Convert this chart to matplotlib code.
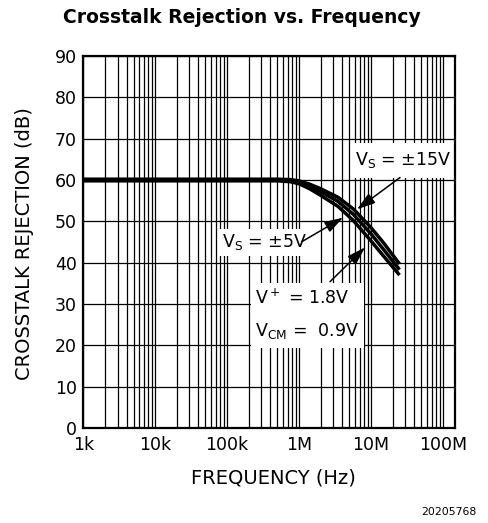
import matplotlib
matplotlib.use('Agg')
import matplotlib.pyplot as plt
from matplotlib.patches import Rectangle
from matplotlib.ticker import FixedLocator, FixedFormatter, LogLocator, NullFormatter

plt.rcParams['font.family'] = ['DejaVu Sans']
plt.rcParams['mathtext.default'] = 'regular'

# data
freq = [1e3, 1e4, 1e5, 3e5, 5e5, 7.5e5, 1e6, 1.4e6, 2e6, 3.5e6, 5.7e6, 1e7, 1.5e7, 2.5e7]
vs15 = [60.2, 60.2, 60.2, 60.2, 60.2, 60.1, 59.8, 59.0, 57.9, 55.8, 53.0, 48.5, 44.8, 39.7]
vs5 = [60.0, 60.0, 60.0, 60.0, 60.0, 59.9, 59.5, 58.5, 57.2, 54.8, 51.7, 47.0, 43.2, 38.3]
v18 = [59.8, 59.8, 59.8, 59.8, 59.8, 59.6, 59.1, 57.9, 56.3, 53.6, 50.2, 45.3, 41.6, 37.0]

xticks = [1e3, 1e4, 1e5, 1e6, 1e7, 1e8]
xticklabels = ['1k', '10k', '100k', '1M', '10M', '100M']
yticks = [0, 10, 20, 30, 40, 50, 60, 70, 80, 90]

fig = plt.figure(figsize=(4.89, 5.23), dpi=100)
ax = fig.add_axes([0.1703, 0.1816, 0.7611, 0.7113])

ax.set_xscale('log')
ax.set_xlim(1e3, 1.5e8)
ax.set_ylim(0, 90)

ax.xaxis.set_major_locator(FixedLocator(xticks))
ax.xaxis.set_major_formatter(FixedFormatter(xticklabels))
ax.xaxis.set_minor_locator(LogLocator(base=10, subs=range(2, 10), numticks=20))
ax.xaxis.set_minor_formatter(NullFormatter())
ax.set_yticks(yticks)

ax.tick_params(which='both', length=0, labelsize=12.5)
ax.tick_params(axis='x', pad=5.5)
ax.tick_params(axis='y', pad=4.5)

ax.set_axisbelow(True)
ax.grid(which='both', axis='x', color='k', lw=0.9)
ax.grid(which='major', axis='y', color='k', lw=0.9)
for s in ax.spines.values():
    s.set_linewidth(1.6)

# white label boxes knocking out the grid
for (x0, y0, w, h) in [(0.719, 0.672, 0.281, 0.094),
                       (0.362, 0.462, 0.236, 0.073),
                       (0.450, 0.215, 0.304, 0.175)]:
    ax.add_patch(Rectangle((x0, y0), w, h, transform=ax.transAxes,
                           facecolor='white', edgecolor='none', zorder=2))

for vals in [vs15, vs5, v18]:
    ax.plot(freq, vals, color='k', lw=2.5, solid_capstyle='butt', zorder=3)

arrow = dict(arrowstyle='-|>,head_length=0.8,head_width=0.25', color='k',
             lw=1.1, mutation_scale=14, shrinkA=0, shrinkB=0)
ax.annotate('', xy=(6.4e6, 52.9), xytext=(2.54e7, 60.6), arrowprops=arrow, zorder=4)
ax.annotate('', xy=(4.1e6, 50.9), xytext=(1.1e6, 45.1), arrowprops=arrow, zorder=4)
ax.annotate('', xy=(8.3e6, 43.7), xytext=(2.7e6, 35.4), arrowprops=arrow, zorder=4)

tkw = dict(transform=ax.transAxes, fontsize=12.5, va='center', ha='left', zorder=5)
ax.text(0.730, 0.720, r'V$_S$ = ±15V', **tkw)
ax.text(0.373, 0.500, r'V$_S$ = ±5V', **tkw)
ax.text(0.461, 0.349, r'V$^+$ = 1.8V', **tkw)
ax.text(0.461, 0.261, r'V$_{CM}$ =  0.9V', **tkw)

fig.text(0.495, 0.966, 'Crosstalk Rejection vs. Frequency', fontsize=13.5,
         fontweight='bold', ha='center', va='center')
fig.text(0.051, 0.535, 'CROSSTALK REJECTION (dB)', fontsize=14, rotation=90,
         ha='center', va='center')
fig.text(0.560, 0.086, 'FREQUENCY (Hz)', fontsize=14, ha='center', va='center')
fig.text(0.975, 0.021, '20205768', fontsize=7.8, ha='right', va='center')

fig.savefig('out.png', dpi=100, facecolor='white')
